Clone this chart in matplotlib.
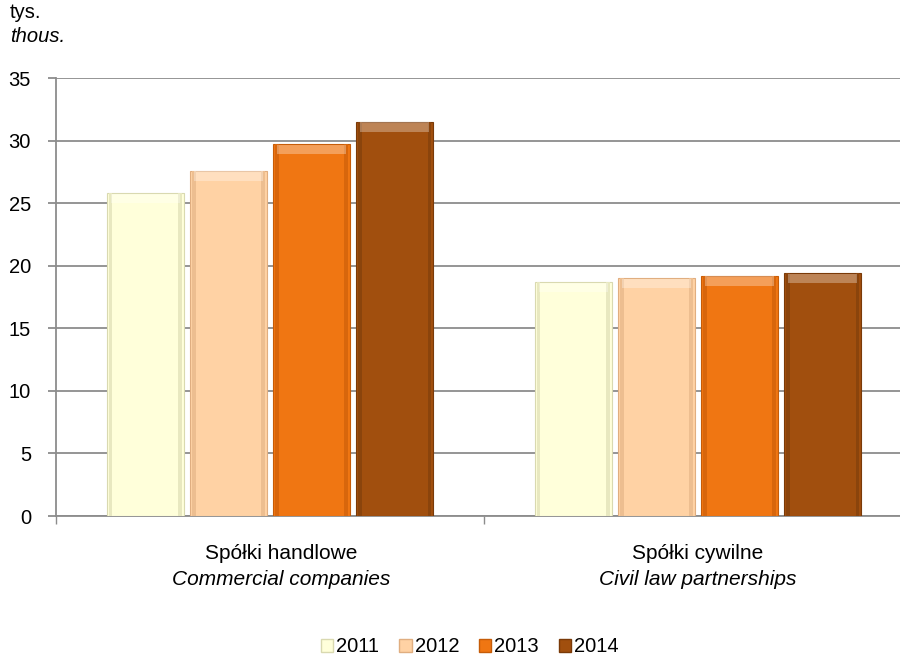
import numpy as np
import matplotlib
matplotlib.use("Agg")
import matplotlib.pyplot as plt
from matplotlib.patches import Patch

# dane (tys.)
kategorie_pl = ["Spółki handlowe", "Spółki cywilne"]
kategorie_en = ["Commercial companies", "Civil law partnerships"]
lata = ["2011", "2012", "2013", "2014"]
wartosci_2011 = [25.8, 18.7]
wartosci_2012 = [27.6, 19.0]
wartosci_2013 = [29.7, 19.2]
wartosci_2014 = [31.5, 19.4]
yticks = [0, 5, 10, 15, 20, 25, 30, 35]

kolory = ["#FFFFDA", "#FFD2A4", "#F07612", "#A14F0E"]
krawedzie = ["#D9D9B0", "#E0AE80", "#C65C08", "#7A3A08"]
boki = ["#E8E8C0", "#EDBE90", "#D8660C", "#8A440C"]

plt.rcParams['font.family'] = ['Liberation Sans', 'DejaVu Sans']
FS = 14.5

fig = plt.figure(figsize=(9, 6.59), dpi=100)
ax = fig.add_axes([56 / 900, 1 - 516 / 659, 856 / 900, 438 / 659])

x = np.arange(len(kategorie_pl))
szer = 0.178
krok = 0.194
serie = [wartosci_2011, wartosci_2012, wartosci_2013, wartosci_2014]
for i, vals in enumerate(serie):
    off = (i - 1.5) * krok
    # cien
    ax.bar(x + off + 0.004, vals, szer, color="#BBBBBB", alpha=0.35, zorder=2)
    ax.bar(x + off, vals, szer, color=kolory[i], edgecolor=krawedzie[i], linewidth=0.8,
           zorder=3)
    # ciemniejsze boki i jasny pasek u gory (efekt fazowania)
    for xi, v in zip(x, vals):
        ax.bar(xi + off - szer / 2 + 0.004, v, 0.008, align="edge", color=boki[i],
               linewidth=0, zorder=4)
        ax.bar(xi + off + szer / 2 - 0.012, v, 0.008, align="edge", color=boki[i],
               linewidth=0, zorder=4)
        ax.bar(xi + off, 0.75, szer * 0.9, bottom=v - 0.8, color="white", alpha=0.3,
               linewidth=0, zorder=5)

ax.set_xlim(-0.5, 1.5)
ax.set_ylim(0, 35)
ax.set_yticks(yticks)
ax.set_yticklabels([str(t) for t in yticks], fontsize=FS)
ax.yaxis.grid(True, color="#8C8C8C", linewidth=1.3)
ax.set_axisbelow(True)
ax.set_xticks([-0.5, 0.5, 1.5])
ax.set_xticklabels(["", "", ""])
ax.tick_params(axis="y", length=6, width=1.3, color="#8C8C8C", pad=12)
ax.tick_params(axis="x", length=6, width=1.0, color="#8C8C8C", direction="out")
for s in ["top", "right"]:
    ax.spines[s].set_visible(False)
ax.spines["left"].set_color("#8C8C8C")
ax.spines["bottom"].set_color("#8C8C8C")
ax.spines["left"].set_linewidth(1.3)
ax.spines["bottom"].set_linewidth(1.3)

przes = [0.025, 0.0]  # etykiety pierwszej grupy lekko w prawo, jak w oryginale
for xi, dx, pl, en in zip(x, przes, kategorie_pl, kategorie_en):
    ax.text(xi + dx, -2.96, pl, ha="center", va="center", fontsize=15)
    ax.text(xi + dx, -5.1, en, ha="center", va="center", fontsize=15, style="italic")

fig.text(10 / 900, 1 - 12 / 659, "tys.", fontsize=FS, va="center")
fig.text(10 / 900, 1 - 37 / 659, "thous.", fontsize=FS, va="center", style="italic")

uchwyty = [Patch(facecolor=kolory[i], edgecolor=krawedzie[i]) for i in range(4)]
fig.legend(uchwyty, lata, loc="center", bbox_to_anchor=(470 / 900, 1 - 647 / 659),
           ncol=4, frameon=False, fontsize=FS, handlelength=0.6, handleheight=0.6,
           handletextpad=0.15, columnspacing=1.0)

fig.savefig("out.png", dpi=100)
